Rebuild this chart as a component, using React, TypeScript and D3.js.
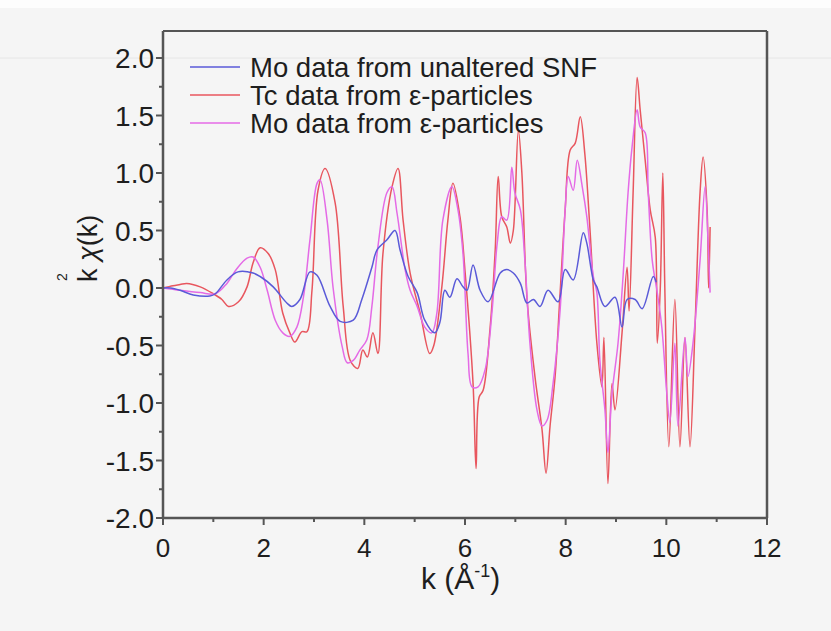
import React from "react";
import * as d3 from "d3";

// k (Å^-1), k^2 chi(k)
const moUnaltered: [number, number][] = [
  [0, 0], [0.15, 0.0], [0.34, -0.02], [0.6, -0.06], [0.93, -0.07], [1.04, -0.05], [1.27, 0.07], [1.49, 0.14],
  [1.79, 0.13], [1.93, 0.1], [2.19, 0.01], [2.46, -0.13], [2.56, -0.16], [2.72, -0.1], [2.92, 0.14], [3.06, 0.11],
  [3.32, -0.16], [3.52, -0.29], [3.78, -0.28], [3.95, -0.1], [4.15, 0.18], [4.25, 0.33], [4.45, 0.42], [4.61, 0.5],
  [4.71, 0.33], [4.87, 0.1], [5.05, -0.04], [5.2, -0.28], [5.4, -0.39], [5.5, -0.3], [5.6, -0.02], [5.7, -0.08],
  [5.84, 0.08], [5.96, 0.01], [6.04, -0.02], [6.16, 0.2], [6.3, -0.02], [6.46, -0.12], [6.7, 0.13], [6.83, 0.16],
  [6.96, 0.13], [7.1, 0.04], [7.23, -0.13], [7.36, -0.1], [7.49, -0.16], [7.65, -0.02], [7.85, -0.12], [7.99, 0.16],
  [8.15, 0.07], [8.35, 0.48], [8.42, 0.39], [8.55, 0.07], [8.62, 0.01], [8.78, -0.16], [8.98, -0.08], [9.12, -0.34],
  [9.22, -0.1], [9.38, -0.1], [9.52, -0.18], [9.74, 0.1], [9.8, 0.05],
];

const tcEps: [number, number][] = [
  [0, 0], [0.2, 0.02], [0.34, 0.03], [0.47, 0.04], [0.74, 0.01], [1.0, -0.05], [1.17, -0.1], [1.3, -0.16],
  [1.5, -0.12], [1.67, 0.01], [1.79, 0.22], [1.93, 0.35], [2.09, 0.3], [2.23, 0.16], [2.38, -0.22], [2.52, -0.39],
  [2.62, -0.47], [2.76, -0.38], [2.86, -0.38], [2.96, -0.02], [3.08, 0.85], [3.22, 1.04], [3.42, 0.74], [3.58, -0.16],
  [3.72, -0.63], [3.87, -0.7], [3.97, -0.54], [4.06, -0.6], [4.17, -0.39], [4.27, -0.57], [4.37, 0.3], [4.55, 0.88],
  [4.67, 1.04], [4.77, 0.59], [4.91, 0.13], [5.11, -0.22], [5.3, -0.57], [5.38, -0.5], [5.54, 0.01], [5.66, 0.59],
  [5.76, 0.91], [5.9, 0.62], [6.0, 0.15], [6.16, -0.83], [6.22, -1.57], [6.28, -0.95], [6.36, -0.89], [6.5, -0.34],
  [6.6, 0.33], [6.66, 0.97], [6.73, 0.62], [6.83, 0.53], [6.9, 0.39], [6.96, 0.5], [7.06, 1.37], [7.13, 1.0],
  [7.23, -0.08], [7.39, -0.77], [7.53, -1.23], [7.61, -1.61], [7.69, -1.2], [7.79, -0.77], [7.89, -0.04], [7.99, 0.68],
  [8.09, 1.2], [8.19, 1.26], [8.29, 1.49], [8.38, 1.17], [8.48, 0.53], [8.62, -0.48], [8.72, -0.86], [8.76, -0.43],
  [8.84, -1.7], [8.92, -0.83], [8.98, -1.06], [9.12, -0.39], [9.22, 0.18], [9.26, -0.2], [9.34, 0.83], [9.42, 1.83],
  [9.48, 1.55], [9.58, 1.11], [9.68, 0.68], [9.78, 0.44], [9.82, -0.48], [9.88, 0.0], [9.93, 1.0], [9.97, 0.0],
  [10.05, -1.38], [10.17, -0.1], [10.27, -1.38], [10.37, -0.43], [10.47, -1.38], [10.57, -0.34], [10.67, 0.83],
  [10.73, 1.14], [10.81, 0.68], [10.84, 0.0], [10.87, 0.53],
];

const moEps: [number, number][] = [
  [0, 0], [0.34, -0.02], [0.74, -0.04], [1.04, -0.05], [1.27, 0.04], [1.47, 0.17], [1.67, 0.26], [1.79, 0.27],
  [1.93, 0.18], [2.07, -0.02], [2.23, -0.28], [2.38, -0.39], [2.52, -0.42], [2.66, -0.34], [2.79, -0.08], [2.92, 0.42],
  [3.06, 0.91], [3.12, 0.94], [3.26, 0.59], [3.38, 0.0], [3.56, -0.51], [3.66, -0.65], [3.78, -0.63], [3.91, -0.54],
  [4.05, -0.45], [4.15, -0.16], [4.27, 0.36], [4.45, 0.83], [4.55, 0.88], [4.65, 0.65], [4.81, 0.16], [4.91, -0.02],
  [5.05, -0.16], [5.2, -0.34], [5.34, -0.39], [5.44, -0.22], [5.56, 0.59], [5.74, 0.88], [5.86, 0.68], [5.96, 0.3],
  [6.06, -0.57], [6.14, -0.86], [6.26, -0.86], [6.4, -0.71], [6.54, -0.19], [6.64, 0.39], [6.73, 0.62], [6.83, 0.59],
  [6.93, 1.05], [6.99, 0.83], [7.1, 0.68], [7.19, 0.24], [7.29, -0.48], [7.43, -1.06], [7.53, -1.2], [7.63, -1.15],
  [7.75, -0.83], [7.89, -0.19], [7.99, 0.68], [8.05, 0.97], [8.15, 0.85], [8.23, 1.11], [8.33, 0.88], [8.42, 0.62],
  [8.55, 0.1], [8.62, -0.04], [8.68, -0.63], [8.78, -1.06], [8.84, -1.43], [8.92, -0.92], [9.04, -0.48], [9.14, 0.1],
  [9.24, 0.83], [9.32, 1.23], [9.42, 1.55], [9.48, 1.4], [9.58, 1.35], [9.64, 0.83], [9.72, 0.24], [9.82, -0.04],
  [9.91, -0.34], [10.01, -0.92], [10.07, -1.17], [10.17, -0.48], [10.23, -1.2], [10.37, -0.43], [10.43, -0.77],
  [10.53, -0.48], [10.67, 0.24], [10.77, 0.88], [10.83, 0.39], [10.87, -0.04],
];

const seriesNames = [
  "Mo data from unaltered SNF",
  "Tc data from \u03b5-particles",
  "Mo data from \u03b5-particles",
];
const seriesColors = ["#5a5ad8", "#e8565e", "#e46ae6"];

const xMajor = [0, 2, 4, 6, 8, 10, 12];
const xMinor = [1, 3, 5, 7, 9, 11];
const yMajor = [-2.0, -1.5, -1.0, -0.5, 0.0, 0.5, 1.0, 1.5, 2.0];
const yMinor = [-1.75, -1.25, -0.75, -0.25, 0.25, 0.75, 1.25, 1.75];

const W = 831;
const H = 631;
const L = 163, R = 767, T = 31, B = 518;
const FONT = "'Liberation Sans', Arial, Helvetica, sans-serif";

export default function App() {
  const x = d3.scaleLinear().domain([0, 12]).range([L, R]);
  const y = d3.scaleLinear().domain([-2, 2]).range([B, 58]);
  const line = d3
    .line<[number, number]>()
    .x((d) => x(d[0]))
    .y((d) => y(d[1]))
    .curve(d3.curveCatmullRom.alpha(0.5));

  const data = [moUnaltered, tcEps, moEps];
  const drawOrder = [1, 2, 0];
  const axisColor = "#555";
  const textColor = "#1e1e1e";

  return (
    <svg
      width={W}
      height={H}
      style={{ position: "absolute", left: 0, top: 0, display: "block" }}
      fontFamily={FONT}
    >
      <rect x={0} y={0} width={W} height={H} fill="#f5f5f5" />
      <rect x={0} y={0} width={W} height={8} fill="#fdfdfd" />
      <line x1={0} x2={W} y1={58} y2={58} stroke="#e6e6e6" strokeWidth={1} />

      {/* curves */}
      <g fill="none" strokeWidth={1.5} strokeLinejoin="round">
        {drawOrder.map((i) => (
          <path key={i} d={line(data[i]) || ""} stroke={seriesColors[i]} />
        ))}
      </g>

      {/* frame */}
      <g stroke={axisColor} fill="none">
        <line x1={L} x2={R} y1={T} y2={T} strokeWidth={2} />
        <line x1={R} x2={R} y1={T} y2={B} strokeWidth={2.5} />
        <line x1={L} x2={L} y1={T} y2={B + 1} strokeWidth={2.5} />
        <line x1={L - 1} x2={R + 1} y1={B} y2={B} strokeWidth={2.5} />
      </g>

      {/* ticks */}
      <g stroke={axisColor} strokeWidth={2}>
        {xMajor.map((v) => (
          <line key={"xM" + v} x1={x(v)} x2={x(v)} y1={B} y2={B + 7} />
        ))}
        {xMinor.map((v) => (
          <line key={"xm" + v} x1={x(v)} x2={x(v)} y1={B} y2={B + 4} />
        ))}
        {yMajor.map((v) => (
          <line key={"yM" + v} x1={L - 7} x2={L} y1={y(v)} y2={y(v)} />
        ))}
        {yMinor.map((v) => (
          <line key={"ym" + v} x1={L - 4} x2={L} y1={y(v)} y2={y(v)} />
        ))}
      </g>

      <g fill={textColor}>
        {xMajor.map((v) => (
          <text key={"xt" + v} x={x(v)} y={557} textAnchor="middle" fontSize={26}>
            {String(v)}
          </text>
        ))}
        {yMajor.map((v) => (
          <text key={"yt" + v} x={154} y={y(v)} dy="0.36em" textAnchor="end" fontSize={28}>
            {v.toFixed(1)}
          </text>
        ))}
      </g>

      {/* axis titles */}
      <text x={421} y={589} fontSize={30} fill={textColor}>
        k (Å
        <tspan dy={-12} fontSize={18}>-1</tspan>
        <tspan dy={12}>)</tspan>
      </text>
      <g transform="translate(97,282) rotate(-90)" fill={textColor}>
        <text x={0} y={0} fontSize={27}>
          k <tspan fontStyle="italic">χ</tspan>(k)
        </text>
        <text x={1} y={-30} fontSize={14}>2</text>
      </g>

      {/* legend */}
      <g fontSize={27.5} fill={textColor}>
        {seriesNames.map((name, i) => (
          <g key={name}>
            <line
              x1={190}
              x2={240}
              y1={67 + i * 28}
              y2={67 + i * 28}
              stroke={seriesColors[i]}
              strokeWidth={1.5}
            />
            <text x={250} y={67 + i * 28} dy="0.36em">
              {name}
            </text>
          </g>
        ))}
      </g>
    </svg>
  );
}
